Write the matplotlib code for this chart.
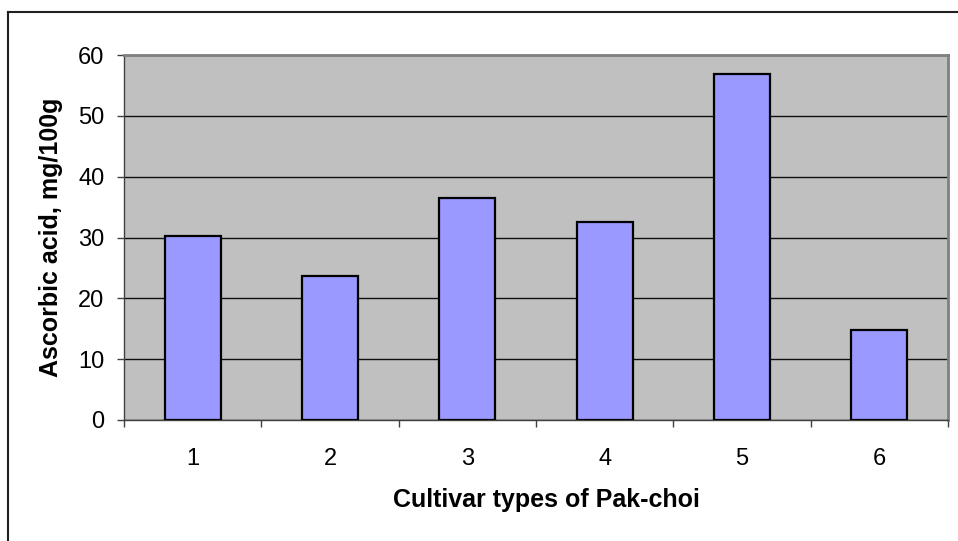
import matplotlib.pyplot as plt
from matplotlib.lines import Line2D
import numpy as np

plt.rcParams['font.family'] = ['Liberation Sans', 'DejaVu Sans']

# ascorbic acid content per cultivar
cultivars = ['1', '2', '3', '4', '5', '6']
ascorbic = [30.3, 23.7, 36.5, 32.6, 56.9, 14.8]
y_ticks = [0, 10, 20, 30, 40, 50, 60]

fig = plt.figure(figsize=(9.58, 5.41), dpi=100)
ax = fig.add_axes([124 / 958, 121 / 541, 824 / 958, 365 / 541])
ax.set_facecolor('#C0C0C0')

x = np.arange(len(cultivars))
ax.bar(x, ascorbic, width=0.41, color='#9999FF', edgecolor='black',
       linewidth=1.6, zorder=3)

ax.set_xlim(-0.5, len(cultivars) - 0.5)
ax.set_ylim(0, 60)
ax.set_yticks(y_ticks)
ax.set_xticks(x)
ax.set_xticklabels(cultivars)
# tick marks sit between categories
ax.set_xticks(np.arange(len(cultivars) + 1) - 0.5, minor=True)
ax.tick_params(axis='x', which='major', length=0, labelsize=17, pad=20)
ax.tick_params(axis='x', which='minor', length=5, width=1, color='#404040')
ax.tick_params(axis='y', length=5, width=1, color='#404040', labelsize=17, pad=9)

ax.yaxis.grid(True, color='#101010', linewidth=1, zorder=1)
ax.set_axisbelow(True)

for side in ('top', 'right'):
    ax.spines[side].set_color('#808080')
    ax.spines[side].set_linewidth(2)
for side in ('left', 'bottom'):
    ax.spines[side].set_color('#404040')
    ax.spines[side].set_linewidth(1)

ax.set_xlabel('Cultivar types of Pak-choi', fontsize=18, fontweight='bold')
ax.xaxis.set_label_coords(0.513, -0.187)
ax.set_ylabel('Ascorbic acid, mg/100g', fontsize=18, fontweight='bold', labelpad=11)

# chart frame (left and top edges)
fig.add_artist(Line2D([7.5 / 958, 7.5 / 958], [0, 1 - 12 / 541],
                      transform=fig.transFigure, color='#202020', linewidth=1.5))
fig.add_artist(Line2D([7.5 / 958, 1], [1 - 12 / 541, 1 - 12 / 541],
                      transform=fig.transFigure, color='#202020', linewidth=1.5))

fig.savefig('out.png', dpi=100)
